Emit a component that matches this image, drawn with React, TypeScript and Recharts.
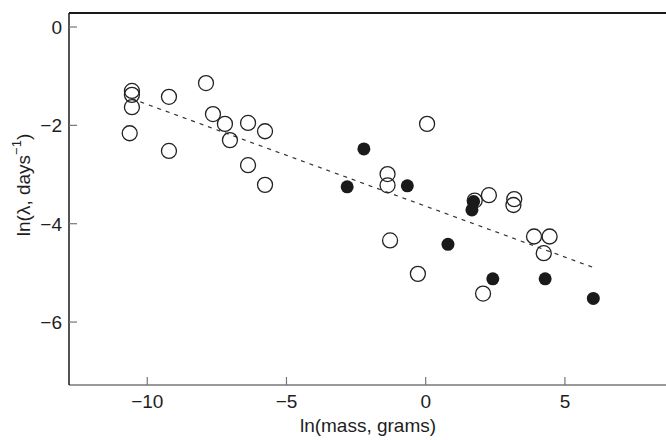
import React from "react";
import { ScatterChart, Scatter, XAxis, YAxis, ReferenceLine } from "recharts";

const openPoints = [
  { x: -10.55, y: -1.3 }, { x: -10.55, y: -1.38 }, { x: -10.55, y: -1.63 }, { x: -10.63, y: -2.16 },
  { x: -9.22, y: -1.42 }, { x: -9.22, y: -2.52 }, { x: -7.89, y: -1.14 }, { x: -7.64, y: -1.77 },
  { x: -7.21, y: -1.97 }, { x: -7.03, y: -2.3 }, { x: -6.38, y: -1.95 }, { x: -6.38, y: -2.81 },
  { x: -5.77, y: -2.12 }, { x: -5.77, y: -3.21 }, { x: 0.05, y: -1.97 }, { x: -1.37, y: -2.99 },
  { x: -1.37, y: -3.22 }, { x: -1.28, y: -4.34 }, { x: -0.28, y: -5.02 }, { x: 1.76, y: -3.53 },
  { x: 2.27, y: -3.42 }, { x: 3.18, y: -3.5 }, { x: 3.15, y: -3.62 }, { x: 3.89, y: -4.26 },
  { x: 4.45, y: -4.26 }, { x: 4.24, y: -4.6 }, { x: 2.06, y: -5.42 },
];

const filledPoints = [
  { x: -2.22, y: -2.48 }, { x: -2.82, y: -3.25 }, { x: -0.66, y: -3.23 }, { x: 1.72, y: -3.55 },
  { x: 1.66, y: -3.72 }, { x: 0.8, y: -4.42 }, { x: 2.41, y: -5.12 }, { x: 4.29, y: -5.12 },
  { x: 6.02, y: -5.52 },
];

const fitLine = [
  { x: -10.55, y: -1.46 },
  { x: 6.02, y: -4.89 },
];

const xTicks = [-10, -5, 0, 5];
const yTicks = [0, -2, -4, -6];
const xDomain = [-12.81, 8.63];
const yDomain = [-7.28, 0.285];

const FONT = "'Liberation Sans', Arial, Helvetica, sans-serif";
const TEXT = "#1e1e1e";
const fmt = (v: number) => (v < 0 ? "\u2212" + Math.abs(v) : String(v));

const XTick = (props: any) => {
  const { x, y, payload } = props;
  return (
    <g>
      <line x1={x} x2={x} y1={y} y2={y - 8} stroke="#777" strokeWidth={1.2} />
      <text x={x} y={y + 23} textAnchor="middle" fontFamily={FONT} fontSize={19} fill={TEXT}>
        {fmt(payload.value)}
      </text>
    </g>
  );
};

const YTick = (props: any) => {
  const { x, y, payload } = props;
  return (
    <g>
      <line x1={x} x2={x + 8} y1={y} y2={y} stroke="#777" strokeWidth={1.2} />
      <text x={x - 7} y={y + 7} textAnchor="end" fontFamily={FONT} fontSize={19} fill={TEXT}>
        {fmt(payload.value)}
      </text>
    </g>
  );
};

const OpenDot = (props: any) => (
  <circle cx={props.cx} cy={props.cy} r={7.5} fill="none" stroke="#222" strokeWidth={1.3} />
);
const FilledDot = (props: any) => (
  <circle cx={props.cx} cy={props.cy} r={6.5} fill="#1a1a1a" />
);
const NoDot = () => <g />;

const XLabel = () => (
  <text x={368} y={432} textAnchor="middle" fontFamily={FONT} fontSize={19} fill={TEXT}>
    ln(mass, grams)
  </text>
);

const YLabel = () => (
  <text
    x={23}
    y={185}
    transform="rotate(-90, 23, 185)"
    textAnchor="middle"
    dominantBaseline="central"
    fontFamily={FONT}
    fontSize={19}
    fill={TEXT}
  >
    <tspan>ln(λ, days</tspan>
    <tspan dy={-7} fontSize={13}>{"\u22121"}</tspan>
    <tspan dy={7}>)</tspan>
  </text>
);

export default function App() {
  return (
    <div style={{ position: "absolute", left: 0, top: 0, background: "#fff" }}>
      <ScatterChart width={666} height={440} margin={{ top: 13, right: 0, bottom: 0, left: 0 }}>
        <XAxis
          type="number"
          dataKey="x"
          domain={xDomain}
          ticks={xTicks}
          allowDataOverflow
          height={55}
          tickSize={0}
          tickMargin={0}
          tick={<XTick />}
          tickLine={false}
          axisLine={{ stroke: "#777", strokeWidth: 1.5 }}
          label={<XLabel />}
        />
        <YAxis
          type="number"
          dataKey="y"
          domain={yDomain}
          ticks={yTicks}
          allowDataOverflow
          width={69}
          tickSize={0}
          tickMargin={0}
          tick={<YTick />}
          tickLine={false}
          axisLine={{ stroke: "#1a1a1a", strokeWidth: 1.5 }}
          label={<YLabel />}
        />
        <ReferenceLine y={yDomain[1]} stroke="#1a1a1a" strokeWidth={2} />
        <Scatter
          data={fitLine}
          line={{ stroke: "#333", strokeWidth: 1.2, strokeDasharray: "4 5" }}
          shape={<NoDot />}
          isAnimationActive={false}
        />
        <Scatter data={openPoints} shape={<OpenDot />} isAnimationActive={false} />
        <Scatter data={filledPoints} shape={<FilledDot />} isAnimationActive={false} />
      </ScatterChart>
    </div>
  );
}
